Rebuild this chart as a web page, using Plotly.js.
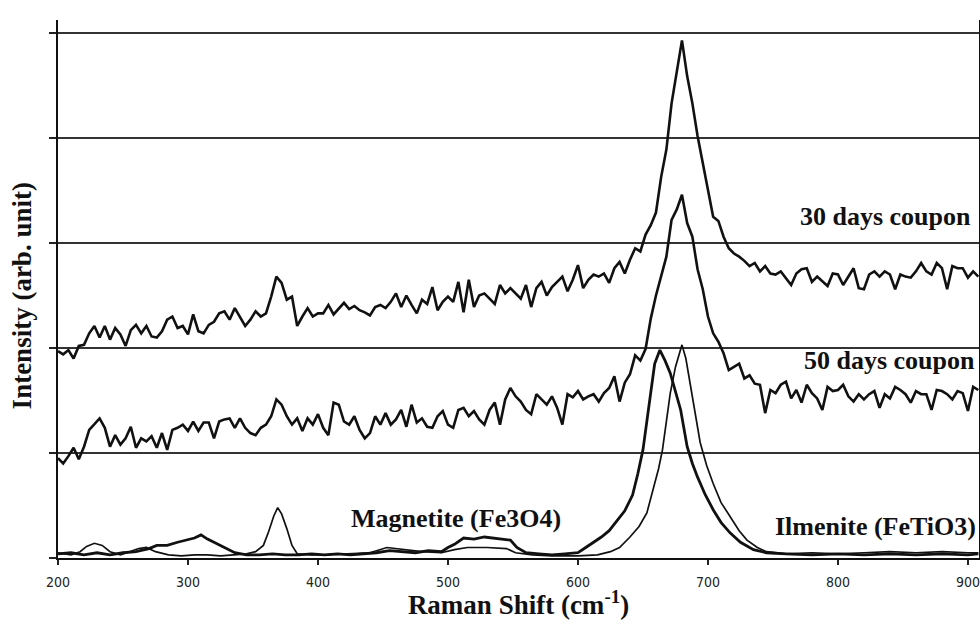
<!DOCTYPE html>
<html>
<head>
<meta charset="utf-8">
<script src="https://cdn.plot.ly/plotly-3.0.1.min.js"></script>
<style>
  html, body { margin: 0; padding: 0; background: #ffffff; }
  #chart { width: 980px; height: 620px; }
</style>
</head>
<body>
<div id="chart"></div>
<script>
// Raman shift sampling grid for the two coupon spectra (cm-1): 200 ... 908, every 4
var gridStart = 200, gridStep = 4, gridCount = 178;
var shiftGrid = [];
for (var i = 0; i < gridCount; i++) { shiftGrid.push(gridStart + i * gridStep); }

// 30 days coupon (arb. unit, offset spectrum)
var coupon30 = [
  1.97,1.94,1.98,1.90,2.02,2.03,2.14,2.21,2.10,2.21,
  2.08,2.19,2.13,2.02,2.17,2.22,2.14,2.21,2.11,2.10,
  2.16,2.27,2.30,2.19,2.21,2.13,2.32,2.16,2.14,2.22,
  2.25,2.33,2.35,2.27,2.38,2.30,2.21,2.27,2.35,2.30,
  2.33,2.49,2.68,2.62,2.46,2.49,2.21,2.30,2.38,2.30,
  2.33,2.33,2.41,2.32,2.38,2.43,2.37,2.40,2.36,2.34,
  2.31,2.39,2.41,2.38,2.44,2.52,2.39,2.50,2.41,2.33,
  2.46,2.42,2.58,2.36,2.44,2.49,2.44,2.63,2.34,2.65,
  2.39,2.50,2.52,2.47,2.42,2.60,2.52,2.57,2.52,2.47,
  2.60,2.39,2.57,2.63,2.50,2.58,2.63,2.68,2.54,2.65,
  2.79,2.57,2.65,2.70,2.68,2.71,2.62,2.76,2.82,2.71,
  2.84,2.95,2.92,3.08,3.17,3.29,3.63,3.89,4.33,4.62,
  4.93,4.59,4.33,4.02,3.76,3.48,3.25,3.21,3.06,2.95,
  2.90,2.87,2.83,2.78,2.81,2.73,2.78,2.71,2.70,2.73,
  2.67,2.60,2.71,2.75,2.76,2.63,2.68,2.63,2.59,2.71,
  2.70,2.60,2.68,2.76,2.57,2.56,2.70,2.73,2.68,2.73,
  2.70,2.56,2.70,2.68,2.67,2.73,2.81,2.73,2.70,2.81,
  2.76,2.56,2.78,2.76,2.76,2.67,2.73,2.68
];

// 50 days coupon (arb. unit, offset spectrum)
var coupon50 = [
  0.95,0.90,0.97,1.05,0.94,1.06,1.22,1.27,1.33,1.24,
  1.06,1.17,1.08,1.14,1.25,1.05,1.14,1.11,1.16,1.05,
  1.19,1.03,1.22,1.24,1.27,1.21,1.30,1.21,1.29,1.29,
  1.14,1.30,1.32,1.33,1.24,1.33,1.24,1.19,1.17,1.24,
  1.27,1.35,1.51,1.46,1.35,1.27,1.33,1.21,1.33,1.27,
  1.37,1.24,1.17,1.48,1.46,1.30,1.27,1.35,1.22,1.14,
  1.19,1.35,1.27,1.38,1.27,1.32,1.41,1.25,1.46,1.29,
  1.33,1.25,1.24,1.35,1.40,1.27,1.24,1.41,1.43,1.35,
  1.40,1.32,1.27,1.41,1.48,1.27,1.51,1.62,1.54,1.49,
  1.41,1.37,1.56,1.51,1.46,1.54,1.43,1.27,1.56,1.53,
  1.59,1.51,1.54,1.56,1.49,1.57,1.62,1.73,1.49,1.67,
  1.75,1.93,1.88,1.99,2.28,2.50,2.68,2.87,3.22,3.32,
  3.46,3.19,3.06,2.75,2.56,2.30,2.14,2.06,1.95,1.79,
  1.82,1.85,1.71,1.74,1.66,1.65,1.38,1.60,1.57,1.65,
  1.68,1.52,1.60,1.48,1.65,1.57,1.52,1.41,1.63,1.59,
  1.60,1.65,1.54,1.49,1.56,1.51,1.56,1.59,1.43,1.56,
  1.52,1.63,1.60,1.56,1.48,1.59,1.56,1.56,1.41,1.60,
  1.59,1.56,1.51,1.59,1.57,1.40,1.63,1.60
];

// Magnetite (Fe3O4) reference spectrum
var magnetiteShift = [200,210,220,230,240,250,260,270,276,284,292,299,305,310,315,320,328,336,345,355,
  365,375,385,395,405,415,425,435,445,455,465,475,485,495,500,505,512,520,528,536,
  542,548,553,560,570,580,590,600,606,612,618,624,630,636,642,646,650,653,656,659,
  663,667,671,675,679,684,688,692,698,704,710,717,725,735,745,760,780,800,820,840,
  860,880,900,908];
var magnetiteInt = [0.04,0.05,0.03,0.05,0.03,0.05,0.06,0.09,0.12,0.12,0.15,0.17,0.19,0.22,0.18,0.15,0.10,0.05,0.03,0.03,
  0.04,0.03,0.03,0.04,0.03,0.04,0.03,0.04,0.05,0.07,0.06,0.05,0.07,0.06,0.10,0.13,0.19,0.18,0.20,0.19,
  0.18,0.17,0.10,0.05,0.04,0.03,0.04,0.05,0.10,0.15,0.20,0.26,0.36,0.45,0.60,0.80,1.03,1.30,1.57,1.85,
  1.98,1.88,1.76,1.58,1.41,1.06,0.90,0.77,0.60,0.46,0.34,0.24,0.15,0.08,0.05,0.04,0.03,0.04,0.03,0.04,
  0.03,0.04,0.03,0.04];

// Ilmenite (FeTiO3) reference spectrum
var ilmeniteShift = [200,210,217,222,228,234,240,248,255,262,268,275,285,295,305,315,325,335,345,352,
  358,362,366,369,372,376,380,384,395,405,420,440,453,465,480,495,505,515,530,545,
  552,565,580,600,615,625,632,640,647,653,658,662,665,668,671,675,680,683,686,690,
  694,699,704,710,717,724,730,738,745,760,780,800,820,840,860,880,900,908];
var ilmeniteInt = [0.05,0.03,0.06,0.11,0.14,0.12,0.06,0.03,0.06,0.09,0.10,0.06,0.03,0.02,0.03,0.03,0.02,0.03,0.04,0.06,
  0.12,0.25,0.40,0.48,0.42,0.28,0.12,0.04,0.03,0.03,0.04,0.05,0.10,0.08,0.06,0.05,0.08,0.10,0.10,0.09,
  0.05,0.03,0.02,0.02,0.03,0.06,0.10,0.20,0.30,0.43,0.65,0.85,1.03,1.30,1.57,1.82,2.03,1.90,1.67,1.38,
  1.10,0.88,0.71,0.53,0.39,0.26,0.17,0.10,0.06,0.04,0.05,0.04,0.05,0.06,0.05,0.06,0.05,0.05];

// Axis ticks
var xTicks = [200,300,400,500,600,700,800,900];
var yTicks = [0,1,2,3,4,5];

// Labels
var seriesLabels = ["30 days coupon","50 days coupon","Magnetite (Fe3O4)","Ilmenite (FeTiO3)"];

var serif = "'Liberation Serif', 'Times New Roman', serif";

var traces = [
  {x: shiftGrid, y: coupon30, name: seriesLabels[0], type: "scatter", mode: "lines",
   line: {color: "#111111", width: 2.6}},
  {x: shiftGrid, y: coupon50, name: seriesLabels[1], type: "scatter", mode: "lines",
   line: {color: "#111111", width: 2.6}},
  {x: magnetiteShift, y: magnetiteInt, name: seriesLabels[2], type: "scatter", mode: "lines",
   line: {color: "#111111", width: 2.8}},
  {x: ilmeniteShift, y: ilmeniteInt, name: seriesLabels[3], type: "scatter", mode: "lines",
   line: {color: "#111111", width: 1.7}}
];

var layout = {
  width: 980, height: 620,
  margin: {l: 58, r: 1, t: 20, b: 62},
  paper_bgcolor: "#ffffff", plot_bgcolor: "#ffffff",
  showlegend: false,
  xaxis: {
    range: [200, 908.5], tickvals: xTicks, ticktext: xTicks.map(String),
    ticks: "outside", ticklen: 5, tickwidth: 1.5, tickcolor: "#222",
    showline: true, linecolor: "#111", linewidth: 2,
    showgrid: false, zeroline: false,
    ticklabeloverflow: "allow", ticklabelstandoff: 5,
    tickfont: {family: "'Liberation Sans Narrow', 'DejaVu Sans Condensed', sans-serif", size: 14, color: "#222"},
    title: {text: "<b>Raman Shift (cm<sup>-1</sup>)</b>", font: {family: serif, size: 27, color: "#111"}, standoff: 6}
  },
  yaxis: {
    range: [0, 5.124], tickvals: yTicks, showticklabels: false,
    ticks: "outside", ticklen: 7, tickwidth: 1.5, tickcolor: "#222",
    showline: true, linecolor: "#111", linewidth: 2, mirror: true,
    showgrid: true, gridcolor: "#333", gridwidth: 1.5, zeroline: false,
    title: {text: "<b>Intensity (arb. unit)</b>&nbsp;&nbsp;", font: {family: serif, size: 27, color: "#111"}, standoff: 10}
  },
  annotations: [
    {x: 904, y: 3.25, xref: "x", yref: "y", xanchor: "right", yanchor: "middle", showarrow: false,
     text: "<b>" + seriesLabels[0] + "</b>", font: {family: serif, size: 26, color: "#111"}},
    {x: 907, y: 1.88, xref: "x", yref: "y", xanchor: "right", yanchor: "middle", showarrow: false,
     text: "<b>" + seriesLabels[1] + "</b>", font: {family: serif, size: 26, color: "#111"}},
    {x: 506, y: 0.38, xref: "x", yref: "y", xanchor: "center", yanchor: "middle", showarrow: false,
     text: "<b>" + seriesLabels[2] + "</b>", font: {family: serif, size: 26, color: "#111"}},
    {x: 908, y: 0.30, xref: "x", yref: "y", xanchor: "right", yanchor: "middle", showarrow: false,
     text: "<b>" + seriesLabels[3] + "</b>", font: {family: serif, size: 26, color: "#111"}}
  ]
};

Plotly.newPlot("chart", traces, layout, {staticPlot: true, displayModeBar: false});
</script>
</body>
</html>
